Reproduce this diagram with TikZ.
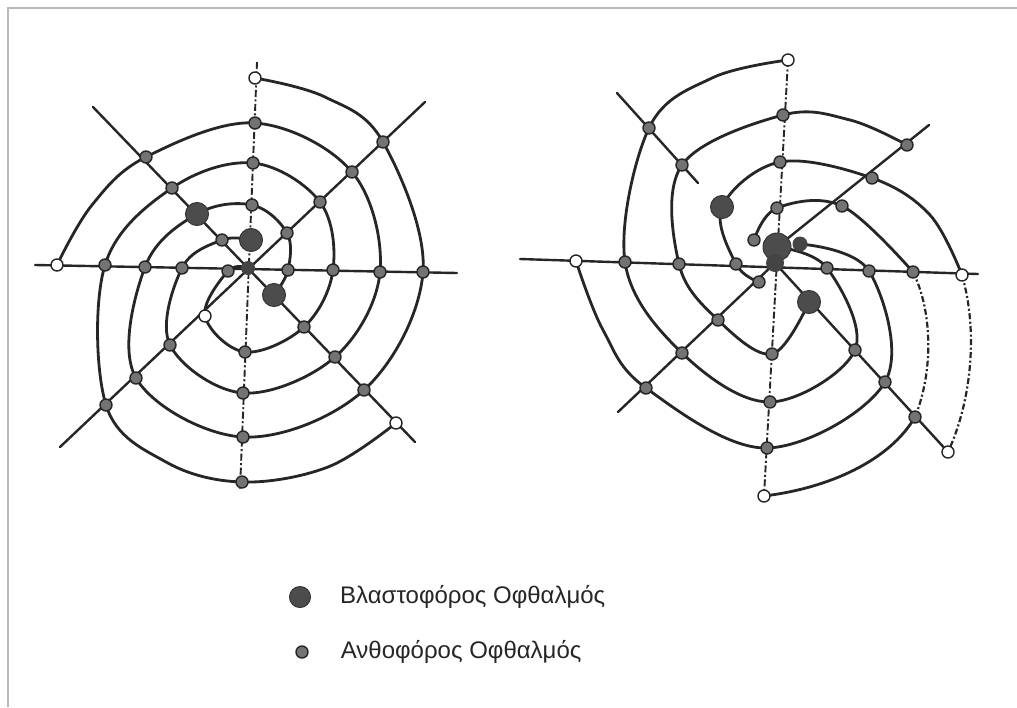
\documentclass[tikz,border=0pt]{standalone}
\usepackage{fontspec}
\setsansfont{Liberation Sans}
\usetikzlibrary{positioning}
\definecolor{ink}{HTML}{262626}
\definecolor{bud}{HTML}{4C4C4C}
\definecolor{flower}{HTML}{737373}
\definecolor{edge}{HTML}{B8B8B8}
\tikzset{
  phframe/.style  = {draw=edge, line width=1.4pt},
  phray/.style    = {draw=ink, line width=2.4pt, line cap=round},
  phaxis/.style   = {draw=ink, line width=1.9pt, dash pattern=on 7pt off 2.5pt on 2pt off 2.5pt},
  phcurve/.style  = {draw=ink, line width=2.8pt, line cap=round, line join=round},
  phdash/.style   = {draw=ink, line width=2.2pt, dash pattern=on 6pt off 2.5pt on 2pt off 2.5pt},
  phflower/.style = {circle, draw=ink, line width=1.4pt, fill=flower, minimum size=12pt, inner sep=0pt},
  phstart/.style  = {phflower, fill=white},
  phbud/.style    = {circle, draw=bud!70!black, line width=1pt, fill=bud, minimum size=23pt, inner sep=0pt},
  phcore/.style   = {circle, fill=bud!90!black, minimum size=14pt, inner sep=0pt},
  phlabel/.style  = {font=\sffamily\fontsize{24}{28}\selectfont, text=ink, anchor=west, inner sep=0pt},
}
\begin{document}
\begin{tikzpicture}[x=1pt, y=-1pt]
\useasboundingbox (0,0) rectangle (1017,707);
\fill[white] (0,0) rectangle (1017,707);
\draw[phframe] (8,707) -- (8,8) -- (1017,8);

% left spiral
\coordinate (aC) at (248,268);
\coordinate (aNtip) at (257,62);   \coordinate (aStip) at (240,490);
\coordinate (aWtip) at (35,265);   \coordinate (aEtip) at (457,273);
\coordinate (aNWtip) at (93,107);  \coordinate (aSEtip) at (415,442);
\coordinate (aNEtip) at (425,102); \coordinate (aSWtip) at (60,447);
\coordinate (aN1) at (251,240); \coordinate (aN2) at (252,205); \coordinate (aN3) at (253,163);
\coordinate (aN4) at (255,123); \coordinate (aN5) at (255,78);
\coordinate (aNE1) at (287,233); \coordinate (aNE2) at (320,202); \coordinate (aNE3) at (352,172);
\coordinate (aNE4) at (383,142);
\coordinate (aE1) at (288,270); \coordinate (aE2) at (333,270); \coordinate (aE3) at (380,272);
\coordinate (aE4) at (423,272);
\coordinate (aSE1) at (274,295); \coordinate (aSE2) at (304,327); \coordinate (aSE3) at (335,357);
\coordinate (aSE4) at (364,390); \coordinate (aSE5) at (396,423);
\coordinate (aS1) at (245,352); \coordinate (aS2) at (243,393); \coordinate (aS3) at (243,437);
\coordinate (aS4) at (242,482);
\coordinate (aSW1) at (205,316); \coordinate (aSW2) at (170,345); \coordinate (aSW3) at (136,378);
\coordinate (aSW4) at (106,405);
\coordinate (aW0) at (228,271); \coordinate (aW1) at (182,268); \coordinate (aW2) at (145,267);
\coordinate (aW3) at (105,265); \coordinate (aW4) at (57,265);
\coordinate (aNW1) at (222,240); \coordinate (aNW2) at (197,214); \coordinate (aNW3) at (172,188);
\coordinate (aNW4) at (146,157);

\draw[phaxis] (aNtip) -- (aStip);
\draw[phray] (aWtip) -- (aEtip);
\draw[phray] (aNWtip) -- (aSEtip);
\draw[phray] (aNEtip) -- (aSWtip);

\draw[phcurve] plot[smooth, tension=0.6] coordinates {(aN5) (325,97) (aNE4) (aE4) (aSE4) (aS3) (aSW3) (aW2) (aNW2) (aN2) (aNE1) (aE1) (aSE1)};
\draw[phcurve] plot[smooth, tension=0.6] coordinates {(aW4) (92,205) (aNW4) (aN4) (aNE3) (aE3) (aSE3) (aS2) (aSW2) (aW1) (aNW1) (aN1)};
\draw[phcurve] plot[smooth, tension=0.6] coordinates {(aSE5) (328,467) (aS4) (166,462) (aSW4) (aW3) (aNW3) (aN3) (aNE2) (aE2) (aSE2) (aS1) (aSW1) (aW0) (aC)};

% right spiral
\coordinate (bC) at (777,247); \coordinate (bC2) at (775,263);
\coordinate (bX1) at (754,240); \coordinate (bX2) at (800,244);
\coordinate (bWtip) at (520,259);  \coordinate (bEtip) at (978,274);
\coordinate (bNWtip) at (617,93);  \coordinate (bNWend) at (698,183);
\coordinate (bNEtip) at (929,125); \coordinate (bSWtip) at (618,412);
\coordinate (bN1) at (777,208); \coordinate (bN2) at (780,162); \coordinate (bN3) at (783,115);
\coordinate (bN4) at (788,60);
\coordinate (bNE1) at (842,206); \coordinate (bNE2) at (872,178); \coordinate (bNE3) at (907,145);
\coordinate (bE1) at (827,268); \coordinate (bE2) at (869,271); \coordinate (bE3) at (913,272);
\coordinate (bE4) at (962,275);
\coordinate (bSE1) at (809,302); \coordinate (bSE2) at (855,350); \coordinate (bSE3) at (885,382);
\coordinate (bSE4) at (915,417); \coordinate (bSE5) at (948,452);
\coordinate (bS1) at (772,354); \coordinate (bS2) at (770,402); \coordinate (bS3) at (767,448);
\coordinate (bS4) at (764,496);
\coordinate (bSW1) at (759,282); \coordinate (bSW2) at (718,320); \coordinate (bSW3) at (682,353);
\coordinate (bSW4) at (646,388);
\coordinate (bW1) at (736,264); \coordinate (bW2) at (679,264); \coordinate (bW3) at (625,262);
\coordinate (bW4) at (576,261);
\coordinate (bNW1) at (722,207); \coordinate (bNW2) at (682,165); \coordinate (bNW3) at (649,128);

\draw[phaxis] (bN4) -- (bS4);
\draw[phray] (bWtip) -- (bEtip);
\draw[phray] (bNWtip) -- (bNWend);
\draw[phray] (bNEtip) -- (bC);
\draw[phray] (bC2) -- (bSWtip);
\draw[phray] (bC2) -- (bSE5);

\draw[phcurve] plot[smooth, tension=0.6] coordinates {(bN4) (712,78) (bNW3) (bW3) (bSW3) (bS2) (bSE2) (bE1) (bC)};
\draw[phcurve] plot[smooth, tension=0.6] coordinates {(bNE3) (850,120) (bN3) (bNW2) (bW2) (bSW2) (bS1) (bSE1)};
\draw[phcurve] plot[smooth, tension=0.6] coordinates {(bE4) (930,215) (bNE2) (bN2) (bNW1) (bW1) (bSW1)};
\draw[phcurve] plot[smooth, tension=0.6] coordinates {(bW4) (603,330) (bSW4) (bS3) (bSE3) (bE2) (bX2)};
\draw[phcurve] (bS4) .. controls (830,488) and (890,460) .. (bSE4);
\draw[phcurve] plot[smooth, tension=0.6] coordinates {(bE3) (bNE1) (bN1) (bX1)};
\draw[phdash] (bE4) .. controls (978,330) and (972,400) .. (bSE5);
\draw[phdash] (bSE4) .. controls (934,370) and (932,310) .. (bE3);

% buds
\foreach \p in {aN2,aN3,aN4,aNE1,aNE2,aNE3,aNE4,aE1,aE2,aE3,aE4,aSE2,aSE3,aSE4,
                aS1,aS2,aS3,aS4,aSW2,aSW3,aSW4,aW0,aW1,aW2,aW3,aNW1,aNW3,aNW4,
                bN1,bN2,bN3,bNE1,bNE2,bNE3,bE1,bE2,bE3,bSE2,bSE3,bSE4,
                bS1,bS2,bS3,bSW1,bSW2,bSW3,bSW4,bW1,bW2,bW3,bNW2,bNW3,bX1}
  \node[phflower] (\p-dot) at (\p) {};
\foreach \p in {aN5,aSE5,aSW1,aW4,bN4,bE4,bSE5,bS4,bW4}
  \node[phstart] (\p-dot) at (\p) {};
\foreach \p in {aN1,aNW2,aSE1,bNW1,bSE1}
  \node[phbud] (\p-dot) at (\p) {};
\node[phcore] (aC-dot) at (aC) {};
\node[phbud, minimum size=28pt] (bC-dot) at (bC) {};
\node[phcore, minimum size=18pt] (bC2-dot) at (bC2) {};
\node[phcore, minimum size=15pt] (bX2-dot) at (bX2) {};

% legend
\node[phbud, minimum size=21pt] (budkey) at (300,597) {};
\node[phlabel, right=29pt of budkey] (budtext) {Βλαστοφόρος Οφθαλμός};
\node[phflower] (flowerkey) at (302,652) {};
\node[phlabel, right=32pt of flowerkey] (flowertext) {Ανθοφόρος Οφθαλμός};
\end{tikzpicture}
\end{document}
